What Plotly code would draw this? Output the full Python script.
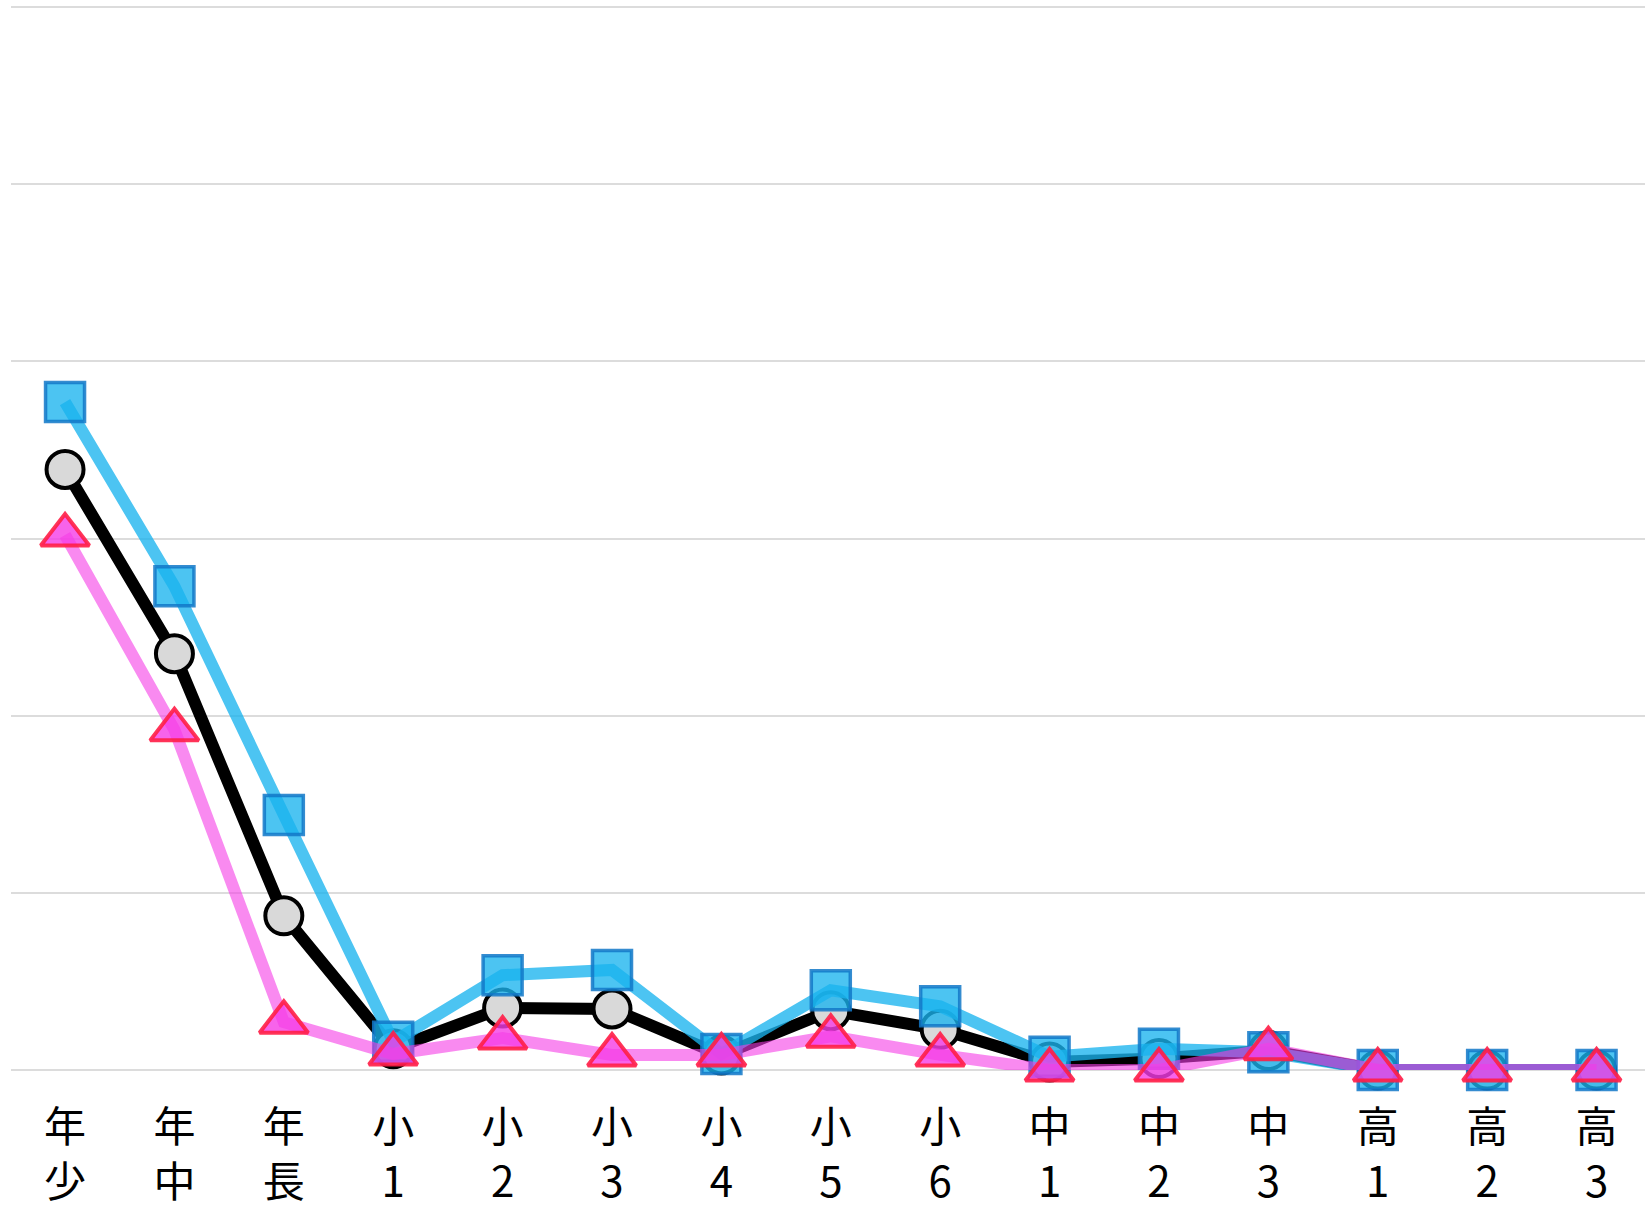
import plotly.graph_objects as go

categories = ["年少", "年中", "年長", "小1", "小2", "小3", "小4", "小5", "小6",
              "中1", "中2", "中3", "高1", "高2", "高3"]
tick_labels = ["年<br>少", "年<br>中", "年<br>長", "小<br>1", "小<br>2", "小<br>3",
               "小<br>4", "小<br>5", "小<br>6", "中<br>1", "中<br>2", "中<br>3",
               "高<br>1", "高<br>2", "高<br>3"]

total = [33.9, 23.5, 8.7, 1.2, 3.5, 3.45, 0.85, 3.35, 2.3, 0.45, 0.65, 1.1, 0, 0, 0]
blue = [37.7, 27.3, 14.4, 1.6, 5.35, 5.65, 0.9, 4.5, 3.6, 0.75, 1.2, 1.0, 0, 0, 0]
pink = [30.2, 19.2, 2.7, 0.9, 1.8, 0.85, 0.85, 1.9, 0.85, 0, 0, 1.2, 0, 0, 0]

fig = go.Figure()

fig.add_trace(go.Scatter(
    x=categories, y=total, mode="lines+markers", cliponaxis=False,
    line=dict(color="#000000", width=12),
    marker=dict(symbol="circle", size=37, color="#d9d9d9",
                line=dict(color="#000000", width=4)),
))
fig.add_trace(go.Scatter(
    x=categories, y=blue, mode="lines+markers", cliponaxis=False,
    line=dict(color="rgba(26,180,238,0.78)", width=12),
    marker=dict(symbol="square", size=39, color="rgba(26,180,238,0.78)",
                line=dict(color="rgba(18,120,200,0.85)", width=3.5)),
))
fig.add_trace(go.Scatter(
    x=categories, y=pink, mode="lines+markers", cliponaxis=False,
    line=dict(color="rgba(245,60,230,0.6)", width=12),
    marker=dict(symbol="triangle-up", size=42, color="rgba(245,60,230,0.8)",
                line=dict(color="rgba(255,30,70,0.9)", width=4)),
))

fig.update_layout(
    width=1645, height=1209,
    margin=dict(l=11, r=0, t=6, b=139),
    paper_bgcolor="white", plot_bgcolor="white",
    showlegend=False,
    font=dict(family="Noto Sans CJK JP", color="#000000"),
)
fig.update_xaxes(
    type="category", range=[-0.494, 14.443],
    tickvals=categories, ticktext=tick_labels,
    showgrid=False, showline=False, zeroline=False,
    ticks="outside", ticklen=21, tickcolor="rgba(0,0,0,0)",
    tickfont=dict(size=42, family="Noto Sans CJK JP", color="#000000"),
)
fig.update_yaxes(
    range=[0, 60.06], dtick=10, showticklabels=False,
    showgrid=True, gridcolor="#dcdcdc", gridwidth=2,
    zeroline=True, zerolinecolor="#dcdcdc", zerolinewidth=2,
    showline=False,
)

fig.write_html(
    "out.html",
    config={"displayModeBar": False},
    post_script="document.body.style.margin='0';document.body.style.overflow='hidden';",
)
